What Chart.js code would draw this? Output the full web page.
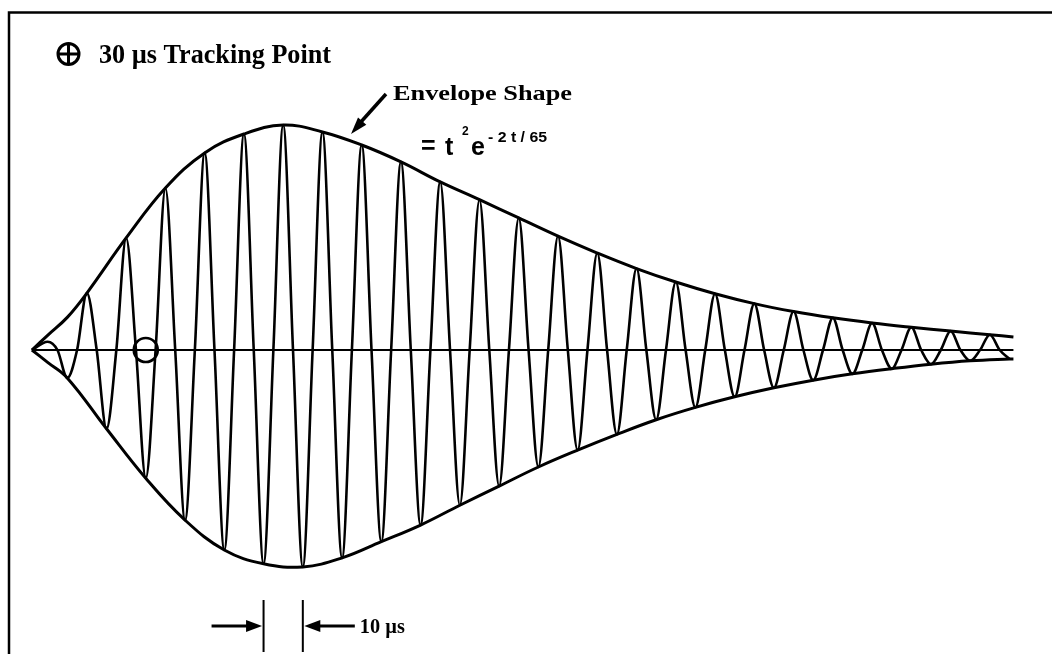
<!DOCTYPE html>
<html>
<head>
<meta charset="utf-8">
<script src="https://cdn.jsdelivr.net/npm/chart.js@4/dist/chart.umd.min.js"></script>
<style>
  html, body { margin: 0; padding: 0; background: #fff; }
  canvas { display: block; }
</style>
</head>
<body>
<canvas id="chart" width="1060" height="654"></canvas>
<script>
// Time in microseconds, amplitude in percent of the envelope maximum.

// Zero crossings of the ringing waveform
const crossingTimes = [1, 7.5, 12.5, 17.5, 22.5, 27.5, 32.5, 37.5, 42.5, 47.5, 52.5, 57.5,
  62.5, 67.5, 72.5, 77.5, 82.5, 87.5, 92.5, 97.5, 102.5, 107.5, 112.5, 117.5, 122.5,
  127.5, 132.5, 137.5, 142.5, 147.5, 152.5, 157.5, 162.5, 167.5, 172.5, 177.5, 182.5,
  187.5, 192.5, 197.5, 202.5, 207.5, 212.5, 217.5, 222.5, 227.5, 232.5, 237.5, 242.5, 247.5];

// Positive half-cycle maxima
const peakTimes = [5, 15, 25, 35, 45, 55, 65, 75, 85, 95, 105, 115, 125, 135, 145, 155,
  165, 175, 185, 195, 205, 215, 225, 235, 245];
const peakValues = [3.7, 25.3, 49.8, 72.0, 87.6, 96.0, 100, 96.9, 91.1, 83.6, 74.7, 66.8,
  58.7, 50.6, 43.1, 36.2, 30.2, 25.0, 20.6, 17.1, 14.3, 12.0, 10.1, 8.4, 6.8];

// Negative half-cycle minima
const troughTimes = [10, 20, 30, 40, 50, 60, 70, 80, 90, 100, 110, 120, 130, 140, 150,
  160, 170, 180, 190, 200, 210, 220, 230, 240, 250];
const troughValues = [-12.4, -35, -57, -75.6, -88.9, -95, -96.4, -92.4, -85.2, -77.8, -69,
  -60.5, -52, -44.5, -37.5, -31, -25.5, -20.8, -16.8, -13.4, -10.6, -8.3, -6.3, -4.8, -4];

// Envelope curves
const envUpperTimes = [1, 5, 10, 15, 25, 35, 45, 55, 65, 75, 85, 95, 105, 115, 125, 135,
  145, 155, 165, 175, 185, 195, 205, 215, 225, 235, 245, 251];
const envUpperValues = [0, 6.5, 14.5, 25.3, 49.8, 72.0, 87.6, 96.0, 100, 96.9, 91.1, 83.6,
  74.7, 66.8, 58.7, 50.6, 43.1, 36.2, 30.2, 25.0, 20.6, 17.1, 14.3, 12.0, 10.1, 8.4, 6.8, 5.8];
const envLowerTimes = [1, 5, 10, 20, 30, 40, 50, 60, 70, 80, 90, 100, 110, 120, 130, 140,
  150, 160, 170, 180, 190, 200, 210, 220, 230, 240, 250, 251];
const envLowerValues = [0, -5.5, -12.4, -35, -57, -75.6, -88.9, -95, -96.4, -92.4, -85.2,
  -77.8, -69, -60.5, -52, -44.5, -37.5, -31, -25.5, -20.8, -16.8, -13.4, -10.6, -8.3, -6.3,
  -4.8, -4, -4];

// Time axis extent, tracking point and the one-period span marker
const baselineTimes = [1, 251];
const trackingTime = 30;
const periodMarks = [60, 70];

const pairs = (ts, vs) => ts.map((t, i) => ({ x: t, y: vs[i] }));

// Waveform = crossings + peaks + troughs, ordered in time
const waveform = [
  ...crossingTimes.map(t => ({ x: t, y: 0 })),
  ...pairs(peakTimes, peakValues),
  ...pairs(troughTimes, troughValues)
].sort((a, b) => a.x - b.x);

const INK = '#000';

// Draw text squeezed/stretched to a given width
function fitText(ctx, text, x, y, width, font) {
  ctx.font = font;
  const w = ctx.measureText(text).width;
  ctx.save();
  ctx.translate(x, y);
  ctx.scale(width / w, 1);
  ctx.fillText(text, 0, 0);
  ctx.restore();
}

function arrowHead(ctx, tipX, tipY, dirX, dirY, len, half) {
  const n = Math.hypot(dirX, dirY);
  const ux = dirX / n, uy = dirY / n;
  const bx = tipX - ux * len, by = tipY - uy * len;
  ctx.beginPath();
  ctx.moveTo(tipX, tipY);
  ctx.lineTo(bx - uy * half, by + ux * half);
  ctx.lineTo(bx + uy * half, by - ux * half);
  ctx.closePath();
  ctx.fill();
}

const decorations = {
  id: 'decorations',
  afterDatasetsDraw(chart) {
    const ctx = chart.ctx;
    const xs = chart.scales.x;
    ctx.save();
    ctx.strokeStyle = INK;
    ctx.fillStyle = INK;
    ctx.textBaseline = 'alphabetic';

    // panel frame
    ctx.lineWidth = 2.5;
    ctx.beginPath();
    ctx.moveTo(9, 654);
    ctx.lineTo(9, 12.5);
    ctx.lineTo(1052, 12.5);
    ctx.stroke();

    // key symbol for the tracking point
    ctx.lineWidth = 3;
    ctx.beginPath();
    ctx.arc(68.5, 54, 10.5, 0, Math.PI * 2);
    ctx.moveTo(58, 54); ctx.lineTo(79, 54);
    ctx.moveTo(68.5, 43.5); ctx.lineTo(68.5, 64.5);
    ctx.stroke();
    fitText(ctx, '30 \u00b5s Tracking Point', 99, 63, 232, 'bold 28px "Liberation Serif"');

    // envelope caption and pointer
    fitText(ctx, 'Envelope Shape', 393, 100, 179, 'bold 22px "Liberation Serif"');
    ctx.lineWidth = 3.5;
    ctx.beginPath();
    ctx.moveTo(386, 94);
    ctx.lineTo(360, 123);
    ctx.stroke();
    arrowHead(ctx, 351, 134, -34, 39, 17, 5.5);

    // envelope formula
    ctx.font = 'bold 25px "Liberation Sans"';
    ctx.fillText('=', 421, 154);
    ctx.fillText('t', 445, 155);
    ctx.fillText('e', 471, 155);
    ctx.font = 'bold 12px "Liberation Sans"';
    ctx.fillText('2', 462, 135);
    fitText(ctx, '- 2 t / 65', 488, 142, 59, 'bold 15px "Liberation Sans"');

    // one-period span marker between two troughs
    const xa = xs.getPixelForValue(periodMarks[0]);
    const xb = xs.getPixelForValue(periodMarks[1]);
    const yTop = 600, yBot = 652, yMid = 626;
    ctx.lineWidth = 2;
    ctx.beginPath();
    ctx.moveTo(xa, yTop); ctx.lineTo(xa, yBot);
    ctx.moveTo(xb, yTop); ctx.lineTo(xb, yBot);
    ctx.stroke();
    ctx.lineWidth = 3;
    ctx.beginPath();
    ctx.moveTo(xa - 52, yMid); ctx.lineTo(xa - 10, yMid);
    ctx.moveTo(xb + 10, yMid); ctx.lineTo(xb + 52, yMid);
    ctx.stroke();
    arrowHead(ctx, xa - 1.5, yMid, 1, 0, 16, 6);
    arrowHead(ctx, xb + 1.5, yMid, -1, 0, 16, 6);
    fitText(ctx, '10 \u00b5s', xb + 57, 633, 45, 'bold 21px "Liberation Serif"');

    ctx.restore();
  }
};

new Chart(document.getElementById('chart'), {
  type: 'scatter',
  data: {
    datasets: [
      {
        label: 'Axis',
        data: baselineTimes.map(t => ({ x: t, y: 0 })),
        showLine: true, borderColor: INK, borderWidth: 2.2, pointRadius: 0
      },
      {
        label: 'Upper envelope',
        data: pairs(envUpperTimes, envUpperValues),
        showLine: true, borderColor: INK, borderWidth: 3, pointRadius: 0,
        tension: 0.4
      },
      {
        label: 'Lower envelope',
        data: pairs(envLowerTimes, envLowerValues),
        showLine: true, borderColor: INK, borderWidth: 3, pointRadius: 0,
        tension: 0.4
      },
      {
        label: 'Waveform',
        data: waveform,
        showLine: true, borderColor: INK, borderWidth: 2.6, pointRadius: 0,
        cubicInterpolationMode: 'monotone'
      },
      {
        label: 'Tracking point',
        data: [{ x: trackingTime, y: 0 }],
        showLine: false, pointRadius: 12, pointBorderWidth: 2.6,
        pointBorderColor: INK, pointBackgroundColor: 'rgba(0,0,0,0)'
      }
    ]
  },
  options: {
    responsive: false,
    animation: false,
    events: [],
    layout: { autoPadding: false, padding: { left: 28, right: 42.65, top: 12.5, bottom: 0.25 } },
    scales: {
      x: { type: 'linear', display: false, min: 0, max: 252 },
      y: { type: 'linear', display: false, min: -135, max: 150 }
    },
    plugins: { legend: { display: false }, tooltip: { enabled: false }, title: { display: false } }
  },
  plugins: [decorations]
});
</script>
</body>
</html>
